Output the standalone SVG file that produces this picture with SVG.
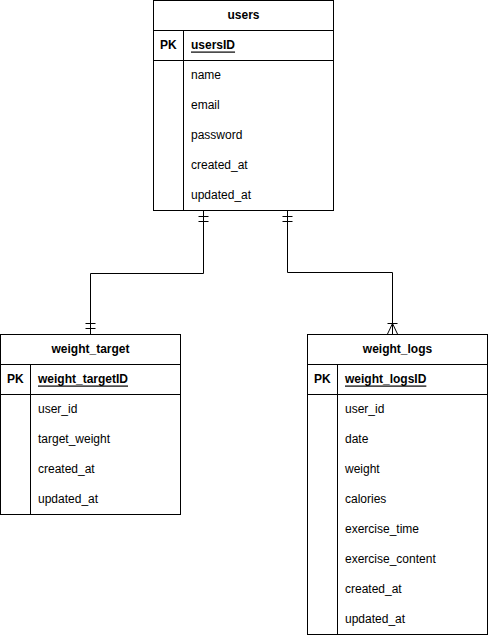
<svg xmlns="http://www.w3.org/2000/svg" width="488" height="635" viewBox="0 0 488 635">
<style>
.box{fill:#fff;stroke:#000;stroke-width:1}
.ln{fill:none;stroke:#000;stroke-width:1}
text{font-family:"Liberation Sans",Arial,sans-serif;font-size:12px;fill:#000;dominant-baseline:central}
.h{font-weight:bold;text-anchor:middle}
.pk{font-weight:bold}
.u{font-weight:bold;text-decoration:underline}
</style>
<rect width="488" height="635" fill="#fff"/>
<g id="connectors">
<path class="ln" d="M203.5 210.5 V273.5 H90.5 V334"/>
<path class="ln" d="M198.5 216.5 H208.5 M198.5 221.5 H208.5"/>
<path class="ln" d="M85.5 323.5 H95.5 M85.5 328.5 H95.5"/>
<path class="ln" d="M287.5 210.5 V272.5 H392.5 V334"/>
<path class="ln" d="M282.5 216.5 H292.5 M282.5 221.5 H292.5"/>
<path class="ln" d="M387.5 323.5 H397.5 M387.5 334 L392.5 323.5 L397.5 334"/>
</g>
<g id="users">
<rect class="box" x="153.5" y="0.5" width="180" height="210"/>
<path class="ln" d="M153.5 30.5 H333.5 M153.5 60.5 H333.5 M183.5 30.5 V210.5"/>
<text class="h" x="243.5" y="14.5">users</text>
<text class="pk" x="160" y="44.5">PK</text>
<text class="u" x="191" y="44.5">usersID</text>
<text x="191" y="74.5">name</text>
<text x="191" y="104.5">email</text>
<text x="191" y="134.5">password</text>
<text x="191" y="164.5">created_at</text>
<text x="191" y="194.5">updated_at</text>
</g>
<g id="weight_target">
<rect class="box" x="0.5" y="334.5" width="180" height="180"/>
<path class="ln" d="M0.5 364.5 H180.5 M0.5 394.5 H180.5 M30.5 364.5 V514.5"/>
<text class="h" x="90.5" y="348.5">weight_target</text>
<text class="pk" x="7" y="378.5">PK</text>
<text class="u" x="38" y="378.5">weight_targetID</text>
<text x="38" y="408.5">user_id</text>
<text x="38" y="438.5">target_weight</text>
<text x="38" y="468.5">created_at</text>
<text x="38" y="498.5">updated_at</text>
</g>
<g id="weight_logs">
<rect class="box" x="307.5" y="334.5" width="180" height="300"/>
<path class="ln" d="M307.5 364.5 H487.5 M307.5 394.5 H487.5 M337.5 364.5 V634.5"/>
<text class="h" x="397.5" y="348.5">weight_logs</text>
<text class="pk" x="314" y="378.5">PK</text>
<text class="u" x="345" y="378.5">weight_logsID</text>
<text x="345" y="408.5">user_id</text>
<text x="345" y="438.5">date</text>
<text x="345" y="468.5">weight</text>
<text x="345" y="498.5">calories</text>
<text x="345" y="528.5">exercise_time</text>
<text x="345" y="558.5">exercise_content</text>
<text x="345" y="588.5">created_at</text>
<text x="345" y="618.5">updated_at</text>
</g>
</svg>
